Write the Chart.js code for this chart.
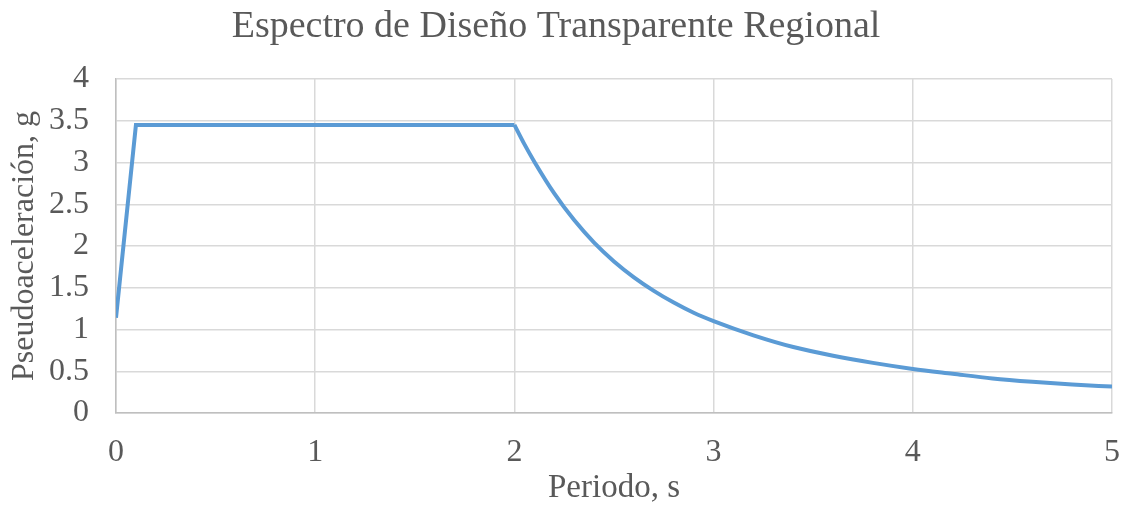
<!DOCTYPE html>
<html>
<head>
<meta charset="utf-8">
<script src="https://cdn.jsdelivr.net/npm/chart.js@4.4.1/dist/chart.umd.min.js"></script>
<style>
  html, body { margin: 0; padding: 0; background: #fff; }
  #wrap { width: 1125px; height: 515px; }
</style>
</head>
<body>
<div id="wrap"><canvas id="spectrum"></canvas></div>
<script>
// tramo lineal + meseta
const plateauT = [0, 0.1, 2];
const plateauSa = [1.14, 3.45, 3.45];

// rama descendente
const decayT = [2, 2.05, 2.1, 2.2, 2.3, 2.4, 2.5, 2.6, 2.7, 2.8, 2.9, 3.0, 3.2, 3.4, 3.6, 3.8, 4.0, 4.2, 4.4, 4.6, 4.8, 5];
const decaySa = [3.45, 3.22, 3.01, 2.63, 2.31, 2.04, 1.815, 1.625, 1.463, 1.322, 1.20, 1.10, 0.93, 0.79, 0.686, 0.60, 0.528, 0.47, 0.414, 0.373, 0.34, 0.316];

const xTicks = [0, 1, 2, 3, 4, 5];
const yTicks = [0, 0.5, 1, 1.5, 2, 2.5, 3, 3.5, 4];

const lineColor = "#5B9BD5";
const textColor = "#595959";
const fontFamily = "'Liberation Serif', 'Times New Roman', serif";

function toPoints(xs, ys) {
    return xs.map((x, i) => ({ x: x, y: ys[i] }));
}

const ctx = document.getElementById("spectrum").getContext("2d");

new Chart(ctx, {
    type: "line",
    data: {
        datasets: [
            {
                data: toPoints(plateauT, plateauSa),
                borderColor: lineColor,
                borderWidth: 4,
                pointRadius: 0,
                fill: false,
                tension: 0
            },
            {
                data: toPoints(decayT, decaySa),
                borderColor: lineColor,
                borderWidth: 4,
                pointRadius: 0,
                fill: false,
                cubicInterpolationMode: "monotone"
            }
        ]
    },
    options: {
        responsive: true,
        maintainAspectRatio: false,
        animation: false,
        layout: { padding: { left: 0, right: 13, top: 0, bottom: 0 } },
        plugins: {
            legend: { display: false },
            tooltip: { enabled: false },
            title: {
                display: true,
                text: "Espectro de Diseño Transparente Regional",
                color: textColor,
                font: { family: fontFamily, size: 38, weight: "normal", lineHeight: 1.2 },
                padding: { top: 4, bottom: 29.4 }
            }
        },
        scales: {
            x: {
                type: "linear",
                min: 0,
                max: 5,
                afterBuildTicks: (scale) => { scale.ticks = xTicks.map(v => ({ value: v })); },
                afterFit: (scale) => {
                    scale.height = 102;
                    scale.paddingLeft = 0;
                    scale.paddingRight = 0;
                },
                grid: { color: "#D9D9D9", lineWidth: 1.5, drawTicks: false },
                border: { color: "#BFBFBF", width: 1.5 },
                ticks: {
                    color: textColor,
                    padding: 20,
                    font: { family: fontFamily, size: 32 },
                    callback: (v) => String(v)
                },
                title: {
                    display: true,
                    text: "Periodo, s",
                    color: textColor,
                    font: { family: fontFamily, size: 33, lineHeight: 1.2 },
                    padding: { top: 0, bottom: 6.5 }
                }
            },
            y: {
                type: "linear",
                min: 0,
                max: 4,
                afterBuildTicks: (scale) => { scale.ticks = yTicks.map(v => ({ value: v })); },
                afterFit: (scale) => { scale.width = 116; },
                grid: { color: "#D9D9D9", lineWidth: 1.5, drawTicks: false },
                border: { color: "#BFBFBF", width: 1.5 },
                ticks: {
                    color: textColor,
                    padding: 27,
                    font: { family: fontFamily, size: 32 },
                    callback: (v) => String(v)
                },
                title: {
                    display: true,
                    text: "Pseudoaceleración, g",
                    color: textColor,
                    font: { family: fontFamily, size: 32, lineHeight: 1.2 },
                    padding: { top: 5, bottom: 0 }
                }
            }
        }
    }
});
</script>
</body>
</html>
